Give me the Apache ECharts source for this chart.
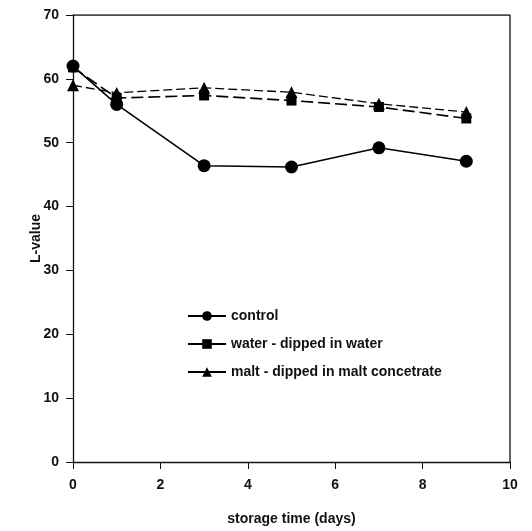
<!DOCTYPE html>
<html>
<head>
<meta charset="utf-8">
<script src="https://cdn.jsdelivr.net/npm/echarts@6/dist/echarts.min.js"></script>
<style>
  html, body { margin: 0; padding: 0; background: #fff; }
  #chart { width: 532px; height: 531px; }
</style>
</head>
<body>
<div id="chart"></div>
<script>
  // storage time (days)
  const days = [0, 1, 3, 5, 7, 9]
  const control = [62.0, 56.0, 46.4, 46.2, 49.2, 47.1]
  const water = [61.8, 57.0, 57.4, 56.6, 55.6, 53.8]
  const malt = [59.0, 57.8, 58.6, 57.9, 56.1, 54.8]
  const xTicks = [0, 2, 4, 6, 8, 10]
  const yTicks = [0, 10, 20, 30, 40, 50, 60, 70]

  const pairs = (ys) => days.map((d, i) => [d, ys[i]])
  const fontFam = '"Liberation Sans", Arial, sans-serif'

  const chart = echarts.init(document.getElementById('chart'))
  chart.setOption({
    animation: false,
    grid: { left: 73, right: 22, top: 15, bottom: 68 },
    xAxis: {
      type: 'value', min: 0, max: 10, interval: 2,
      name: 'storage time (days)', nameLocation: 'middle', nameGap: 50,
      nameTextStyle: { color: '#111', fontSize: 14, fontWeight: 'bold', fontFamily: fontFam },
      axisLine: { lineStyle: { color: '#111', width: 1.3 } },
      axisTick: { length: 7, lineStyle: { color: '#111' } },
      axisLabel: { color: '#111', fontSize: 14, fontWeight: 'bold', fontFamily: fontFam, margin: 16,
        formatter: (v) => xTicks.includes(v) ? String(v) : '' },
      splitLine: { show: false }
    },
    yAxis: {
      type: 'value', min: 0, max: 70, interval: 10,
      name: 'L-value', nameLocation: 'middle', nameGap: 30, nameRotate: 90,
      nameMoveOverlap: false,
      nameTextStyle: { color: '#111', fontSize: 14, fontWeight: 'bold', fontFamily: fontFam },
      axisLine: { lineStyle: { color: '#111', width: 1.3 } },
      axisTick: { length: 7, lineStyle: { color: '#111' } },
      axisLabel: { color: '#111', fontSize: 14, fontWeight: 'bold', fontFamily: fontFam, margin: 14,
        formatter: (v) => yTicks.includes(v) ? String(v) : '' },
      splitLine: { show: false }
    },
    legend: {
      orient: 'vertical', left: 182, top: 304, itemWidth: 38, itemHeight: 12, itemGap: 14,
      lineStyle: { type: 'solid' },
      textStyle: { color: '#111', fontSize: 14, fontWeight: 'bold', fontFamily: fontFam },
      data: [
        { name: 'control' },
        { name: 'water - dipped in water' },
        { name: 'malt - dipped in malt concetrate' }
      ]
    },
    series: [
      {
        name: 'control', type: 'line', data: pairs(control),
        symbol: 'circle', symbolSize: 13,
        itemStyle: { color: '#000' },
        lineStyle: { color: '#000', width: 1.6 }
      },
      {
        name: 'water - dipped in water', type: 'line', data: pairs(water),
        symbol: 'rect', symbolSize: 10,
        itemStyle: { color: '#000' },
        lineStyle: { color: '#000', width: 1.6, type: [12, 5] }
      },
      {
        name: 'malt - dipped in malt concetrate', type: 'line', data: pairs(malt),
        symbol: 'triangle', symbolSize: 12,
        itemStyle: { color: '#000' },
        lineStyle: { color: '#000', width: 1.3, type: [9, 4] }
      },
      {
        // top and right frame
        type: 'line', silent: true, symbol: 'none', legendHoverLink: false,
        data: [[0, 70], [10, 70], [10, 0]],
        lineStyle: { color: '#111', width: 1.3 }, tooltip: { show: false }
      }
    ]
  })
</script>
</body>
</html>
